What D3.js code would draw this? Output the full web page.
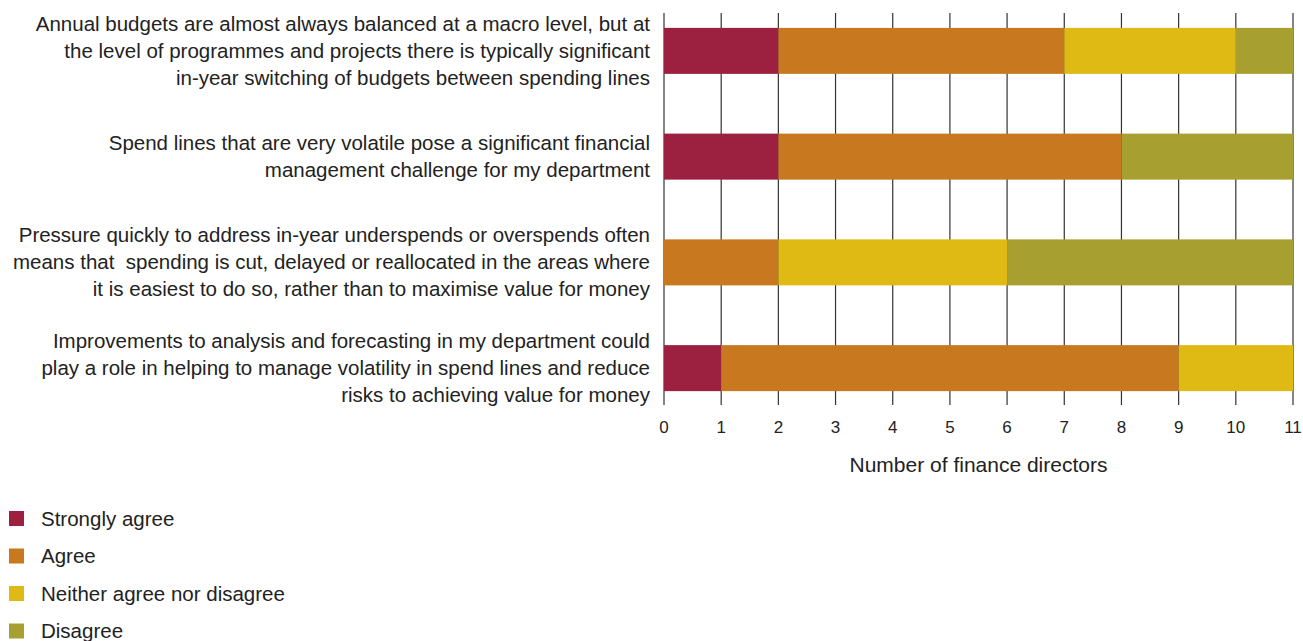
<!DOCTYPE html>
<html>
<head>
<meta charset="utf-8">
<script src="https://cdn.jsdelivr.net/npm/d3@7"></script>
<style>
  body { margin: 0; background: #fff; }
  svg text { font-family: "Liberation Sans", Arial, sans-serif; fill: #222; white-space: pre; }
</style>
</head>
<body>
<div id="graphicContainer"></div>
<script>
// statements, one per bar (each entry is the wrapped lines)
var statements = [
	["Annual budgets are almost always balanced at a macro level, but at",
	 "the level of programmes and projects there is typically significant",
	 "in-year switching of budgets between spending lines"],
	["Spend lines that are very volatile pose a significant financial",
	 "management challenge for my department"],
	["Pressure quickly to address in-year underspends or overspends often",
	 "means that  spending is cut, delayed or reallocated in the areas where",
	 "it is easiest to do so, rather than to maximise value for money"],
	["Improvements to analysis and forecasting in my department could",
	 "play a role in helping to manage volatility in spend lines and reduce",
	 "risks to achieving value for money"]
];

var categories = ["Strongly agree", "Agree", "Neither agree nor disagree", "Disagree"];

var stronglyAgree = [2, 2, 0, 1];
var agree         = [5, 6, 2, 8];
var neither       = [3, 0, 4, 2];
var disagree      = [1, 3, 5, 0];

var xTicks = [0, 1, 2, 3, 4, 5, 6, 7, 8, 9, 10, 11];

var palette = ["#9c2140", "#c8781f", "#dfba15", "#a89f31"];

var width = 1303, height = 641;

var svg = d3.select("#graphicContainer").append("svg")
	.attr("width", width)
	.attr("height", height);

var rows = statements.map(function(s, i) {
	return {
		idx: i,
		lines: s,
		"Strongly agree": stronglyAgree[i],
		"Agree": agree[i],
		"Neither agree nor disagree": neither[i],
		"Disagree": disagree[i]
	};
});

var x = d3.scaleLinear().domain([0, 11]).range([664, 1293]);

var y = d3.scaleBand()
	.domain(rows.map(d => d.idx))
	.range([-2, 421])
	.paddingInner(0.565)
	.paddingOuter(0.2825);

var colors = d3.scaleOrdinal().domain(categories).range(palette);

var stack = d3.stack().keys(categories)(rows);

// gridlines
svg.append("g")
	.selectAll("line")
	.data(xTicks)
	.enter()
	.append("line")
	.attr("x1", d => x(d))
	.attr("x2", d => x(d))
	.attr("y1", 13)
	.attr("y2", 405)
	.attr("stroke", "#333")
	.attr("stroke-width", 1.2);

// bars
svg.append("g")
	.selectAll("g")
	.data(stack)
	.enter()
	.append("g")
	.attr("fill", d => colors(d.key))
	.selectAll("rect")
	.data(d => d)
	.enter()
	.append("rect")
	.attr("x", d => x(d[0]))
	.attr("width", d => x(d[1]) - x(d[0]))
	.attr("y", d => y(d.data.idx))
	.attr("height", y.bandwidth());

// tick labels
svg.append("g")
	.selectAll("text")
	.data(xTicks)
	.enter()
	.append("text")
	.attr("x", d => x(d))
	.attr("y", 433)
	.attr("text-anchor", "middle")
	.style("font-size", "17px")
	.text(d => d);

svg.append("text")
	.attr("x", (x(0) + x(11)) / 2)
	.attr("y", 472)
	.attr("text-anchor", "middle")
	.style("font-size", "21px")
	.text("Number of finance directors");

// statement labels
var lineH = 27;
var labels = svg.append("g")
	.selectAll("text")
	.data(rows)
	.enter()
	.append("text")
	.attr("text-anchor", "end")
	.style("font-size", "20.5px");

labels.each(function(d) {
	var cy = y(d.idx) + y.bandwidth() / 2;
	var top = cy - (d.lines.length - 1) * lineH / 2 + 7;
	d3.select(this).selectAll("tspan")
		.data(d.lines)
		.enter()
		.append("tspan")
		.attr("x", 650)
		.attr("y", (l, j) => top + j * lineH)
		.text(l => l);
});

// legend
var legend = svg.append("g")
	.selectAll("g")
	.data(categories)
	.enter()
	.append("g")
	.attr("transform", (d, i) => "translate(9," + (511 + i * 37.5) + ")");

legend.append("rect")
	.attr("width", 15)
	.attr("height", 15)
	.attr("fill", d => colors(d));

legend.append("text")
	.attr("x", 32)
	.attr("y", 14.5)
	.style("font-size", "20.5px")
	.text(d => d);
</script>
</body>
</html>
